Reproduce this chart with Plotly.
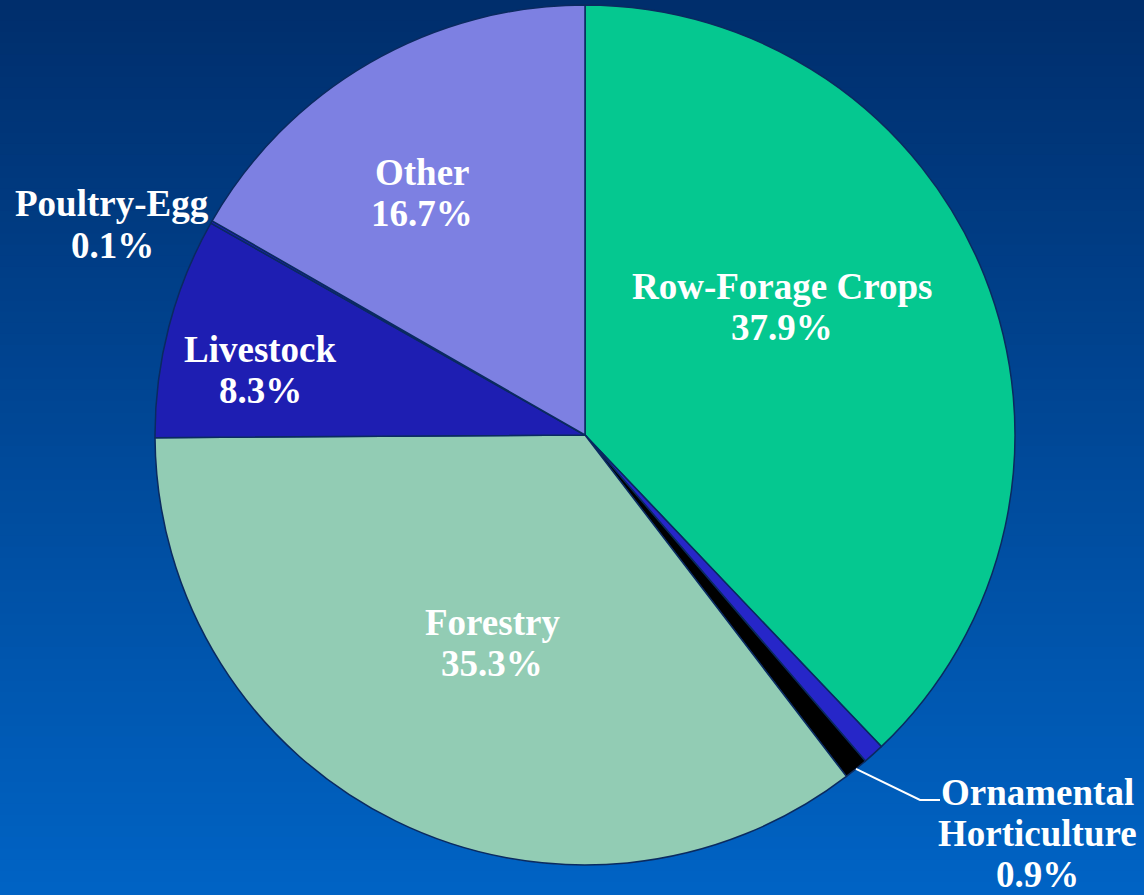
import math
import plotly.graph_objects as go

# ---- data ----
categories = ["Row-Forage Crops", "Unlabeled", "Ornamental Horticulture", "Forestry",
              "Livestock", "Poultry-Egg", "Other"]
values = [37.9, 0.8, 0.9, 35.3, 8.3, 0.1, 16.7]
label_lines = {
    "Row-Forage Crops": ["Row-Forage Crops", "37.9%"],
    "Ornamental Horticulture": ["Ornamental", "Horticulture", "0.9%"],
    "Forestry": ["Forestry", "35.3%"],
    "Livestock": ["Livestock", "8.3%"],
    "Poultry-Egg": ["Poultry-Egg", "0.1%"],
    "Other": ["Other", "16.7%"],
}
colors = ["#05c890", "#2626c8", "#000000", "#92ccb4", "#1e1eb2", "#1e1eb2", "#7d80e2"]

W, H = 1144, 895
CX, CY, R = 585, 435, 430  # pie centre / radius in pixels (layout)

# label anchor (x centre, first-line y) in pixels, layout only
label_pos = {
    "Row-Forage Crops": (782, 286),
    "Ornamental Horticulture": (1037, 792),
    "Forestry": (492, 622),
    "Livestock": (260, 349),
    "Poultry-Egg": (112, 204),
    "Other": (422, 173),
}
LINE_STEP = 41

def px(x):
    return x / W

def py(y):
    return 1 - y / H

fig = go.Figure()

fig.add_trace(go.Pie(
    labels=categories,
    values=values,
    sort=False,
    direction="clockwise",
    rotation=0,
    marker=dict(colors=colors, line=dict(color="#0a2a60", width=1.5)),
    textinfo="none",
    hoverinfo="label+percent",
    showlegend=False,
    domain=dict(x=[px(CX - R), px(CX + R)], y=[py(CY + R), py(CY - R)]),
))

# background gradient
shapes = []
n = 80
top = (0x00, 0x2e, 0x6c)
bot = (0x00, 0x63, 0xc4)
for i in range(n):
    t = i / (n - 1)
    c = tuple(round(top[k] + (bot[k] - top[k]) * t) for k in range(3))
    shapes.append(dict(type="rect", xref="paper", yref="paper",
                       x0=0, x1=1, y0=1 - (i + 1) / n, y1=1 - i / n + 0.002,
                       fillcolor="rgb(%d,%d,%d)" % c, line=dict(width=0),
                       layer="below"))

# leader line for Ornamental Horticulture (from slice midpoint on the rim)
total = sum(values)
idx = categories.index("Ornamental Horticulture")
cum = sum(values[:idx]) + values[idx] / 2
ang = cum / total * 2 * math.pi
x0 = CX + R * math.sin(ang)
y0 = CY - R * math.cos(ang)
shapes.append(dict(type="path", xref="paper", yref="paper",
                   path="M %f,%f L %f,%f L %f,%f" % (px(x0), py(y0), px(920), py(800), px(940), py(800)),
                   line=dict(color="white", width=2), layer="above"))

annotations = []
for cat in categories:
    if cat not in label_pos:
        continue
    x, y = label_pos[cat]
    for j, line in enumerate(label_lines[cat]):
        annotations.append(dict(x=px(x), y=py(y + j * LINE_STEP), xref="paper", yref="paper",
                                text="<b>%s</b>" % line, showarrow=False,
                                xanchor="center", yanchor="middle",
                                font=dict(family="Times New Roman, Liberation Serif, Times, serif",
                                          size=37, color="white")))

fig.update_layout(
    width=W, height=H,
    margin=dict(l=0, r=0, t=0, b=0),
    paper_bgcolor="#00469a",
    plot_bgcolor="rgba(0,0,0,0)",
    shapes=shapes,
    annotations=annotations,
)

fig.write_html("out.html", config={"displayModeBar": False},
               post_script="document.body.style.margin='0';document.body.style.padding='0';")
